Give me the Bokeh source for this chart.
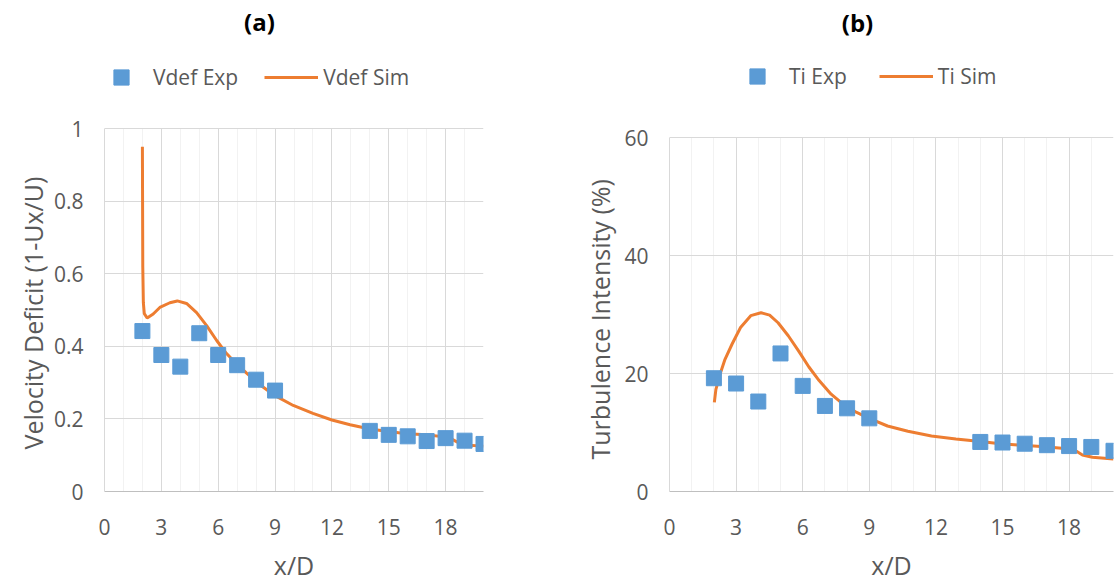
from bokeh.plotting import figure
from bokeh.layouts import row
from bokeh.models import Range1d, FixedTicker, NumeralTickFormatter, Legend, LegendItem, Label, Title
from bokeh.embed import file_html
from bokeh.resources import INLINE

# ---------------- data ----------------
exp_x = [2, 3, 4, 5, 6, 7, 8, 9, 14, 15, 16, 17, 18, 19, 20]
vdef_exp = [0.442, 0.376, 0.344, 0.436, 0.376, 0.348, 0.308, 0.278,
            0.167, 0.156, 0.152, 0.139, 0.147, 0.140, 0.131]
ti_exp = [19.2, 18.3, 15.25, 23.4, 17.9, 14.5, 14.1, 12.4,
          8.4, 8.3, 8.1, 7.85, 7.7, 7.55, 6.9]

vdef_sim_x = [2.0, 2.02, 2.05, 2.1, 2.25, 2.57, 2.92, 3.45, 3.84, 4.33, 4.86, 5.39,
              5.92, 6.44, 6.97, 7.5, 8.2, 9.0, 9.96, 11.0, 12.0, 12.96, 14.0,
              14.98, 15.95, 17.0, 17.9, 18.3, 18.7, 19.0, 20.0]
vdef_sim = [0.95, 0.62, 0.52, 0.490, 0.478, 0.489, 0.507, 0.520, 0.525, 0.518, 0.493, 0.457,
            0.416, 0.380, 0.351, 0.326, 0.294, 0.264, 0.237, 0.215, 0.197, 0.184, 0.172,
            0.165, 0.159, 0.156, 0.151, 0.145, 0.134, 0.128, 0.125]

ti_sim_x = [2.02, 2.09, 2.28, 2.5, 2.82, 3.2, 3.66, 4.12, 4.51, 4.89, 5.35, 5.82, 6.28,
            6.74, 7.28, 7.82, 8.43, 9.05, 9.82, 10.74, 11.8, 12.9, 13.9, 14.9, 15.9,
            16.9, 17.8, 18.3, 18.6, 19.05, 20.0]
ti_sim = [15.1, 17.3, 19.9, 22.4, 25.0, 27.8, 29.8, 30.3, 29.9, 28.6, 26.4, 23.8, 21.1,
          18.8, 16.5, 14.8, 13.4, 12.3, 11.1, 10.2, 9.4, 8.9, 8.5, 8.1, 7.85,
          7.6, 7.3, 6.9, 6.2, 5.8, 5.5]

x_ticks = [0, 3, 6, 9, 12, 15, 18]
x_minor = list(range(0, 21))
vdef_ticks = [0, 0.2, 0.4, 0.6, 0.8, 1]
ti_ticks = [0, 20, 40, 60]

# ---------------- style ----------------
FONT = "Open Sans"
TXT = "#595959"
BLUE = "#5B9BD5"
ORANGE = "#ED7D31"
MAJ = "#D9D9D9"
MIN = "#F2F2F2"

H = 584
BOTTOM = 93
FRAME_H = H - BOTTOM


def panel(width, bl, br, ymax, top_px, yticks, ylabel, yl_offset, yl_standoff):
    # the frame spans the whole height above the x axis; the value axis
    # reaches ymax at top_px pixels from the top of the figure
    yend = ymax * FRAME_H / (FRAME_H - top_px)
    p = figure(width=width, height=H, output_backend="svg", toolbar_location=None,
               title=None, x_range=Range1d(0, 20), y_range=Range1d(0, yend))
    p.min_border = 0
    p.min_border_left = bl
    p.min_border_right = br
    p.min_border_top = 0
    p.min_border_bottom = BOTTOM
    p.outline_line_color = None
    p.background_fill_color = "white"
    p.border_fill_color = "white"

    p.xaxis.ticker = FixedTicker(ticks=x_ticks, minor_ticks=x_minor)
    p.yaxis.ticker = FixedTicker(ticks=yticks)
    p.yaxis.formatter = NumeralTickFormatter(format="0.[0]")
    p.yaxis.bounds = (0, ymax)
    for ax in (p.xaxis, p.yaxis):
        ax.major_tick_out = 0
        ax.major_tick_in = 0
        ax.minor_tick_out = 0
        ax.minor_tick_in = 0
        ax.major_label_text_font = FONT
        ax.major_label_text_font_size = "21px"
        ax.major_label_text_color = TXT
        ax.axis_label_text_font = FONT
        ax.axis_label_text_font_size = "25px"
        ax.axis_label_text_font_style = "normal"
        ax.axis_label_text_color = TXT
    p.xaxis.axis_line_color = "#BFBFBF"
    p.yaxis.axis_line_color = MAJ
    p.xaxis.major_label_standoff = 27
    p.yaxis.major_label_standoff = 21
    p.xaxis.axis_label = "x/D"
    p.xaxis.axis_label_standoff = 10

    # value-axis title, placed along the plotted value range
    p.add_layout(Title(text=ylabel, align="left", offset=yl_offset, standoff=yl_standoff,
                       text_font=FONT, text_font_size="25px", text_font_style="normal",
                       text_color=TXT), "left")

    p.xgrid.grid_line_color = MAJ
    p.xgrid.minor_grid_line_color = MIN
    p.xgrid.cross_bounds = (0, ymax)
    p.ygrid.grid_line_color = MAJ
    return p


def add_top(p, items, legend_x, legend_y, spacing, title, tx, ty):
    leg = Legend(items=items, location=(legend_x, legend_y), orientation="horizontal",
                 glyph_width=54, glyph_height=38, label_standoff=5,
                 padding=0, margin=0, spacing=spacing,
                 border_line_alpha=0, background_fill_alpha=0,
                 label_text_font=FONT, label_text_font_size="21px",
                 label_text_color=TXT)
    p.add_layout(leg, "center")
    p.add_layout(Label(x=tx, y=ty, x_units="screen", y_units="screen", text=title,
                       text_font=FONT, text_font_size="24px", text_font_style="bold",
                       text_color="black", text_align="center", text_baseline="middle"))


# ---------------- panel (a) ----------------
pa = panel(560, 104, 77, 1, 128, vdef_ticks, "Velocity Deficit (1-Ux/U)", 42, 2)
la = pa.line(vdef_sim_x, vdef_sim, line_color=ORANGE, line_width=3)
sa = pa.scatter(exp_x, vdef_exp, marker="square", size=15, fill_color=BLUE, line_color=BLUE)
add_top(pa, [LegendItem(label="Vdef Exp", renderers=[sa]),
             LegendItem(label="Vdef Sim", renderers=[la])],
        -10, FRAME_H - 96, 26, "(a)", 155, FRAME_H - 21)

# ---------------- panel (b) ----------------
pb = panel(558, 109, 5, 60, 137, ti_ticks, "Turbulence Intensity (%)", 32, 10)
lb = pb.line(ti_sim_x, ti_sim, line_color=ORANGE, line_width=3)
sb = pb.scatter(exp_x, ti_exp, marker="square", size=15, fill_color=BLUE, line_color=BLUE)
add_top(pb, [LegendItem(label="Ti Exp", renderers=[sb]),
             LegendItem(label="Ti Sim", renderers=[lb])],
        61, FRAME_H - 95, 32, "(b)", 188, FRAME_H - 22)

layout = row(pa, pb)
open("out.html", "w").write(file_html(layout, INLINE))
